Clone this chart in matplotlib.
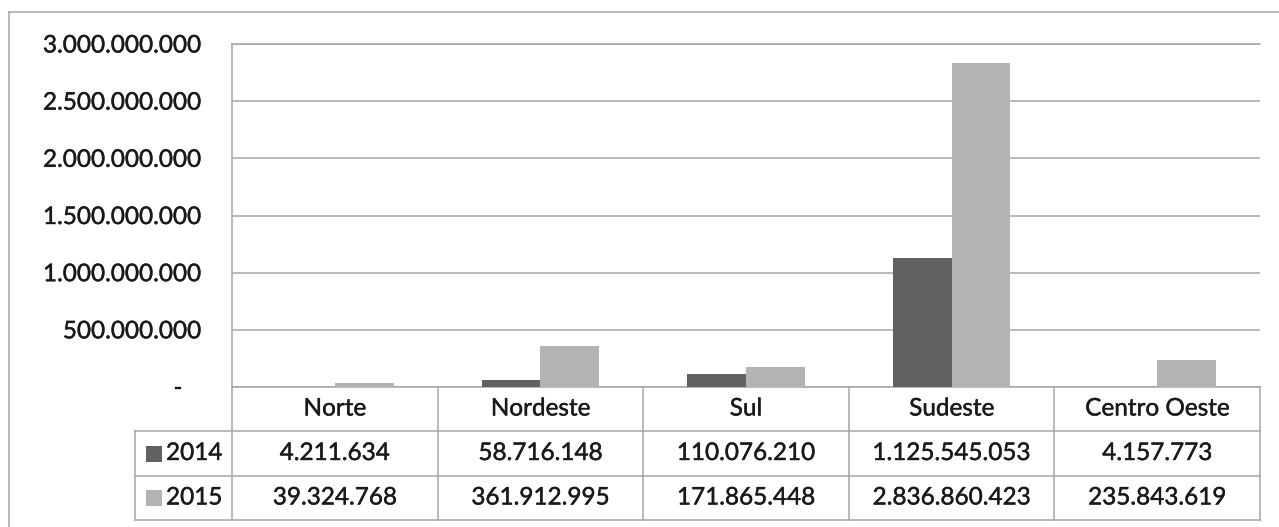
import numpy as np
import matplotlib
matplotlib.use('Agg')
import matplotlib.pyplot as plt
import matplotlib.patheffects as pe
from matplotlib.transforms import blended_transform_factory
from matplotlib.patches import Rectangle

plt.rcParams['font.family'] = ['Lato', 'DejaVu Sans']

# data
regioes = ['Norte', 'Nordeste', 'Sul', 'Sudeste', 'Centro Oeste']
anos = ['2014', '2015']
v2014 = [4211634, 58716148, 110076210, 1125545053, 4157773]
v2015 = [39324768, 361912995, 171865448, 2836860423, 235843619]
yticks = [0, 500000000, 1000000000, 1500000000, 2000000000, 2500000000, 3000000000]
cores = ['#616161', '#b3b3b3']
linha = '#a6a6a6'

def br(v):
    return f'{v:,}'.replace(',', '.')

W, H = 1279, 527
fig = plt.figure(figsize=(W/100, H/100), dpi=100)
fig.patch.set_facecolor('white')

# pixel layout
x0, x1, ytop, y0 = 232, 1260, 44, 387
rows = [387, 431, 476, 520]
leg_left = 135
fs = 17.5
thick = [pe.withStroke(linewidth=0.3, foreground='#1a1a1a')]
tkw = dict(fontsize=fs, color='#1a1a1a', path_effects=thick)

ax = fig.add_axes([x0/W, 1-y0/H, (x1-x0)/W, (y0-ytop)/H])
n = len(regioes)
x = np.arange(n)
w = 1/3.5
ax.bar(x - w/2, v2014, w, color=cores[0], zorder=3)
ax.bar(x + w/2, v2015, w, color=cores[1], zorder=3)
ax.set_xlim(-0.5, n-0.5)
ax.set_ylim(0, 3e9)
ax.set_yticks(yticks)
ax.set_yticklabels([br(t) if t else '-   ' for t in yticks], **tkw)
ax.tick_params(axis='y', length=0, pad=22)
ax.set_xticks([])
ax.yaxis.grid(True, color=linha, lw=1.1, zorder=0)
ax.spines['right'].set_visible(False)
for s in ['left', 'top', 'bottom']:
    ax.spines[s].set_color(linha); ax.spines[s].set_linewidth(1.1)

# overlay for the data table
tab = fig.add_axes([0, 0, 1, 1], zorder=5)
tab.set_xlim(0, W); tab.set_ylim(H, 0); tab.axis('off')
tab.patch.set_alpha(0)
tr = blended_transform_factory(ax.transData, tab.transData)
edges = np.arange(n+1) - 0.5
kw = dict(color=linha, lw=1.1)
for e in edges:
    tab.plot([e, e], [rows[0], rows[-1]], transform=tr, **kw)
for r in rows[1:]:
    tab.plot([leg_left, x1], [r, r], **kw)
tab.plot([leg_left, leg_left], [rows[1], rows[-1]], **kw)

for i, reg in enumerate(regioes):
    tab.text(i, (rows[0]+rows[1])/2, reg, transform=tr, ha='center', va='center', **tkw)
    tab.text(i, (rows[1]+rows[2])/2, br(v2014[i]), transform=tr, ha='center', va='center', **tkw)
    tab.text(i, (rows[2]+rows[3])/2, br(v2015[i]), transform=tr, ha='center', va='center', **tkw)

for k, ano in enumerate(anos):
    yc = (rows[k+1]+rows[k+2])/2
    tab.add_patch(Rectangle((146, yc-8), 16, 16, color=cores[k], lw=0))
    tab.text(166, yc, ano, ha='left', va='center', **tkw)

# outer chart frame
tab.plot([9, W], [12, 12], **kw)
tab.plot([9, 9], [12, H], **kw)

fig.savefig('out.png', dpi=100)
